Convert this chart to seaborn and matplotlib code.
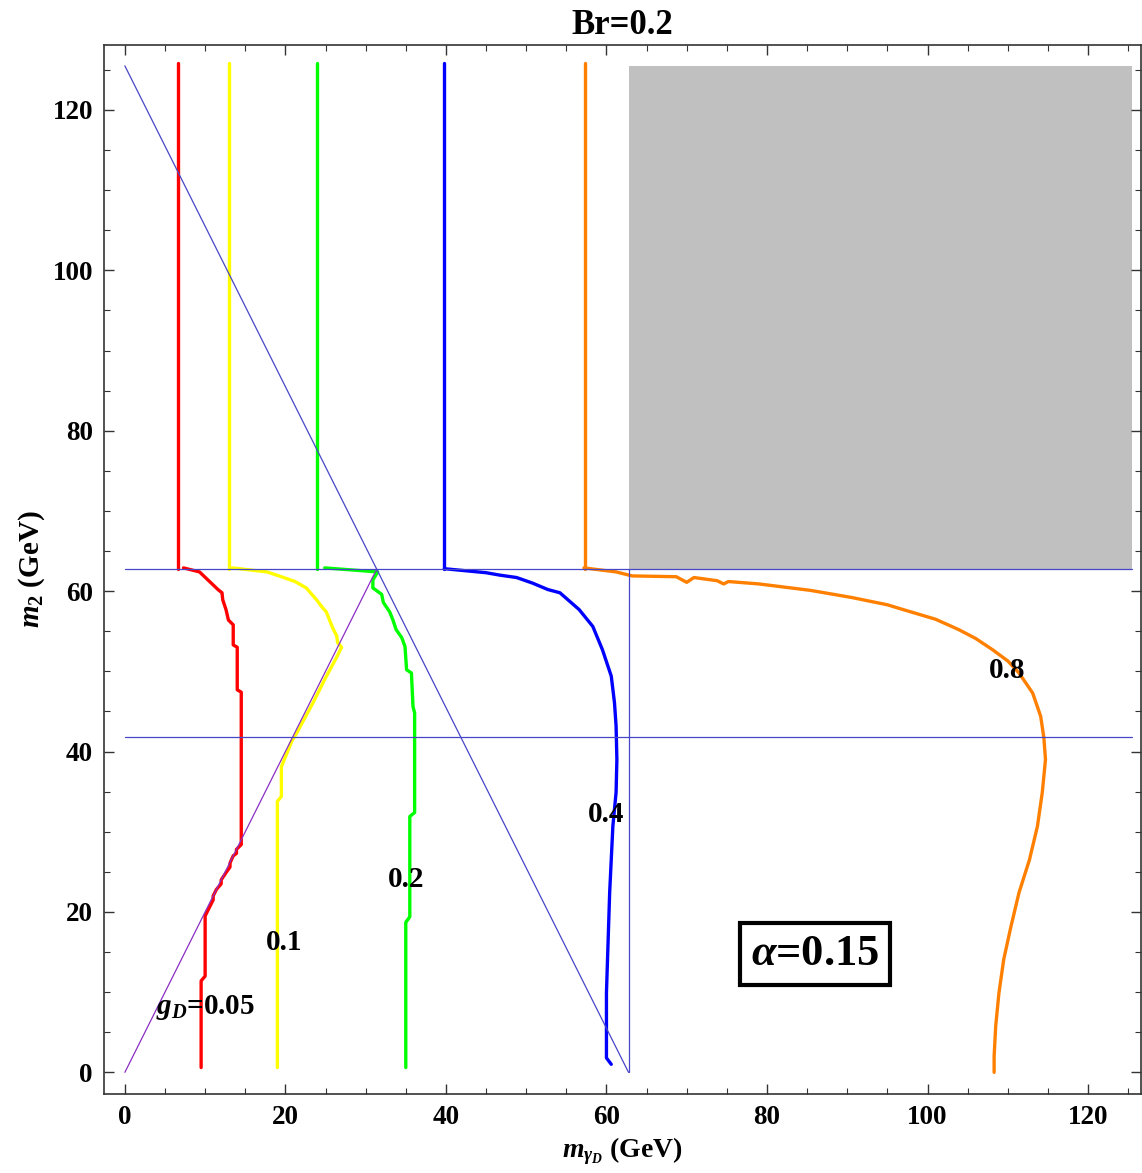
import numpy as np
import pandas as pd
import matplotlib
matplotlib.use("Agg")
import matplotlib.pyplot as plt
import seaborn as sns

# ---------------- data ----------------
mh = 125.5  # reference mass scale (GeV)

couplings = ["0.05", "0.1", "0.2", "0.4", "0.8"]
colors = ["#ff0000", "#ffff00", "#00ff00", "#0000ff", "#ff8000"]

# upper (vertical) branches: x position, y from y_lo to y_hi
upper_x = [6.6, 13.0, 23.9, 39.8, 57.3]
upper_y = [62.8, 125.9]

# lower branches
red_x = [7.3, 9.3, 11.6, 12.1, 12.2, 12.6, 12.9, 13.5, 13.5, 14.0, 14.0, 14.5, 14.5,
         13.9, 13.9, 13.5, 13.1, 13.1, 12.6, 12.0, 12.0, 11.4, 11.0, 11.0, 10.6, 10.0,
         10.0, 9.5, 9.5]
red_y = [62.9, 62.4, 60.2, 59.8, 58.9, 57.7, 56.4, 55.8, 53.3, 53.0, 47.7, 47.4, 28.4,
         27.8, 27.3, 27.0, 26.1, 25.6, 24.9, 24.0, 23.5, 22.8, 22.0, 21.5, 20.7, 19.5,
         12.0, 11.4, 0.6]

yellow_x = [13.4, 17.7, 19.5, 21.2, 22.6, 23.9, 24.5, 25.1, 25.5, 25.9, 26.4, 26.5, 27.0,
            26.3, 25.6, 24.9, 24.2, 23.5, 22.8, 22.1, 21.4, 20.8, 19.7, 19.5, 19.5,
            19.0, 19.0]
yellow_y = [62.9, 62.4, 61.8, 61.2, 60.4, 58.9, 58.1, 57.4, 56.4, 55.4, 54.4, 53.6, 53.0,
            51.6, 50.3, 49.0, 47.6, 46.2, 44.9, 43.6, 42.3, 41.3, 38.6, 38.1, 34.4,
            33.8, 0.6]

green_x = [24.9, 31.5, 30.9, 30.9, 32.0, 32.2, 33.0, 33.4, 33.8, 34.5, 34.9, 35.1, 35.7,
           35.9, 36.1, 36.1, 35.5, 35.5, 35.0, 35.0]
green_y = [62.9, 62.4, 61.4, 60.4, 59.6, 58.6, 57.4, 56.4, 55.2, 54.2, 53.1, 50.2, 49.8,
           45.6, 44.8, 32.4, 31.9, 19.4, 18.7, 0.6]

blue_x = [39.8, 45.0, 46.7, 48.8, 50.8, 52.7, 54.2, 56.6, 58.3, 59.5, 60.6, 61.0, 61.2,
          61.3, 61.2, 60.8, 60.4, 60.0, 60.0, 60.6]
blue_y = [62.8, 62.3, 62.0, 61.7, 61.0, 60.2, 59.8, 57.7, 55.6, 52.7, 49.4, 46.1, 43.2,
          39.0, 34.9, 30.7, 22.4, 9.9, 1.8, 1.0]

orange_x = [57.2, 61.2, 63.2, 68.7, 70.0, 70.9, 73.8, 74.6, 75.2, 79.0, 85.4, 88.3, 90.6,
            95.0, 97.3, 101.0, 103.9, 106.0, 108.1, 110.0, 111.4, 113.1, 114.1, 114.5,
            114.7, 114.3, 113.7, 112.7, 111.4, 110.4, 109.5, 108.9, 108.5, 108.3, 108.3]
orange_y = [62.9, 62.4, 61.9, 61.8, 61.1, 61.7, 61.3, 60.9, 61.2, 60.9, 60.1, 59.6, 59.2,
            58.3, 57.6, 56.5, 55.2, 54.1, 52.7, 51.3, 49.8, 47.3, 44.4, 41.7,
            39.0, 34.9, 30.7, 26.5, 22.4, 18.2, 14.1, 9.9, 5.8, 2.0, 0.0]

lower_x = [red_x, yellow_x, green_x, blue_x, orange_x]
lower_y = [red_y, yellow_y, green_y, blue_y, orange_y]

# curve labels
label_texts = [r"$g_D$=0.05", "0.1", "0.2", "0.4", "0.8"]
label_x = [10.0, 19.9, 35.0, 60.0, 109.9]
label_y = [8.1, 16.2, 24.0, 32.1, 50.1]

x_ticks = [0, 20, 40, 60, 80, 100, 120]
y_ticks = [0, 20, 40, 60, 80, 100, 120]

# ---------------- style ----------------
sns.set_theme(style="ticks")
plt.rcParams["font.family"] = ["Liberation Serif", "DejaVu Serif"]
plt.rcParams["font.weight"] = "bold"
plt.rcParams["text.color"] = "black"
plt.rcParams["axes.labelcolor"] = "black"
plt.rcParams["xtick.labelcolor"] = "black"
plt.rcParams["ytick.labelcolor"] = "black"
plt.rcParams["mathtext.fontset"] = "custom"
plt.rcParams["mathtext.rm"] = "Liberation Serif:bold"
plt.rcParams["mathtext.it"] = "Liberation Serif:italic:bold"
plt.rcParams["mathtext.bf"] = "Liberation Serif:bold"

fig = plt.figure(figsize=(11.42, 11.73), dpi=100)
ax = fig.add_axes([104 / 1142, 1 - 1094 / 1173, (1141 - 104) / 1142, (1094 - 45) / 1173])

# grey excluded region
ax.fill_between([mh / 2, mh], [mh / 2, mh / 2], [mh, mh], color="#c0c0c0", lw=0, zorder=0)

# contours
for i in range(len(couplings)):
    sns.lineplot(x=[upper_x[i], upper_x[i]], y=upper_y, color=colors[i], lw=2.4,
                 sort=False, estimator=None, ax=ax, zorder=2)
    sns.lineplot(x=lower_x[i], y=lower_y[i], color=colors[i], lw=2.4,
                 sort=False, estimator=None, ax=ax, zorder=2)

# reference lines
ref = "#4646c8"
sns.lineplot(x=[0, mh / 2], y=[mh, 0], color=ref, lw=0.9, sort=False, estimator=None, ax=ax, zorder=3)
sns.lineplot(x=[0, mh / 4], y=[0, mh / 2], color="#8a2ec4", lw=0.9, sort=False, estimator=None, ax=ax, zorder=3)
sns.lineplot(x=[0, mh], y=[mh / 2, mh / 2], color=ref, lw=0.9, sort=False, estimator=None, ax=ax, zorder=3)
sns.lineplot(x=[0, mh], y=[mh / 3, mh / 3], color=ref, lw=0.9, sort=False, estimator=None, ax=ax, zorder=3)
sns.lineplot(x=[mh / 2, mh / 2], y=[0, mh / 2], color=ref, lw=0.9, sort=False, estimator=None, ax=ax, zorder=3)

# labels on curves
for t, lx, ly in zip(label_texts, label_x, label_y):
    ax.text(lx, ly, t, ha="center", va="center", fontsize=21, fontweight="bold",
            color="black", zorder=5)

ax.text(86.0, 14.8, r"$\alpha$=0.15", ha="center", va="center", fontsize=32, fontweight="bold",
        color="black", zorder=6,
        bbox=dict(boxstyle="square,pad=0.25", fc="white", ec="black", lw=3))

ax.set_xlim(-2.6, 126.6)
ax.set_ylim(-2.7, 128.1)
ax.set_xticks(x_ticks)
ax.set_yticks(y_ticks)
ax.set_xticks(np.arange(0, 126, 5), minor=True)
ax.set_yticks(np.arange(0, 126, 5), minor=True)
ax.tick_params(which="both", direction="in", top=True, right=True, color="#333333",
               labelsize=19.5, pad=8, labelcolor="black")
ax.tick_params(which="major", length=7, width=1)
ax.tick_params(which="minor", length=4, width=0.8)
for lab in ax.get_xticklabels() + ax.get_yticklabels():
    lab.set_fontweight("bold")
for s in ax.spines.values():
    s.set_color("#333333")
    s.set_linewidth(1.2)

ax.set_xlabel(r"$m_{\gamma_D}$ (GeV)", fontsize=20, fontweight="bold", labelpad=4, color="black")
ax.set_ylabel(r"$m_2$ (GeV)", fontsize=21, fontweight="bold", labelpad=4, color="black")
ax.set_title("Br=0.2", fontsize=25, fontweight="bold", pad=8, color="black")

fig.savefig("out.png", dpi=100)
